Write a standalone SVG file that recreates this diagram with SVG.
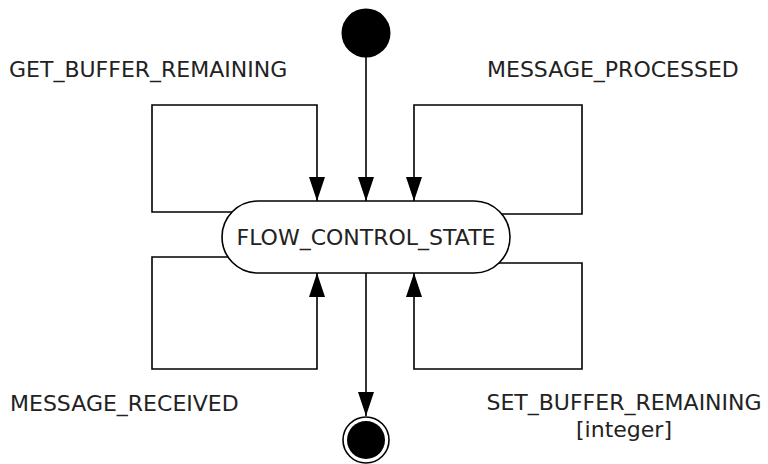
<svg xmlns="http://www.w3.org/2000/svg" width="768" height="464" viewBox="0 0 768 464">
<style>
.edge{fill:none;stroke:#000;stroke-width:1.6;stroke-linejoin:miter}
.lbl{font-family:"DejaVu Sans","Verdana",sans-serif;font-size:22px;fill:#222}
</style>
<defs>
<marker id="arr" markerUnits="userSpaceOnUse" markerWidth="24" markerHeight="17" refX="24" refY="8.5" orient="auto">
<path d="M0,0.5 L24,8.5 L0,16.5 z" fill="#000"/>
</marker>
</defs>
<rect width="768" height="464" fill="#fff"/>
<g id="connectors">
<path class="edge" d="M366,57 V201" marker-end="url(#arr)"/>
<path class="edge" d="M232,212 H152 V105 H317 V201" marker-end="url(#arr)"/>
<path class="edge" d="M502,214 H582 V105 H414 V201" marker-end="url(#arr)"/>
<path class="edge" d="M228,257 H152 V369 H317 V273" marker-end="url(#arr)"/>
<path class="edge" d="M499,263 H582 V369 H414 V273" marker-end="url(#arr)"/>
<path class="edge" d="M366,273 V416" marker-end="url(#arr)"/>
</g>
<g id="initial">
<circle cx="366" cy="33" r="24.5" fill="#000"/>
</g>
<g id="flow_control_state">
<rect x="222" y="201" width="288" height="72" rx="36" ry="36" fill="#fff" stroke="#000" stroke-width="1.6"/>
<text class="lbl" x="366" y="245" text-anchor="middle">FLOW_CONTROL_STATE</text>
</g>
<g id="final">
<circle cx="366" cy="440" r="23" fill="#fff" stroke="#000" stroke-width="1.6"/>
<circle cx="366" cy="440" r="19" fill="#000"/>
</g>
<g id="labels">
<text class="lbl" x="9" y="77">GET_BUFFER_REMAINING</text>
<text class="lbl" x="487" y="77">MESSAGE_PROCESSED</text>
<text class="lbl" x="10" y="411">MESSAGE_RECEIVED</text>
<text class="lbl" x="624" y="410" text-anchor="middle">SET_BUFFER_REMAINING</text>
<text class="lbl" x="624" y="437" text-anchor="middle">[integer]</text>
</g>
</svg>
